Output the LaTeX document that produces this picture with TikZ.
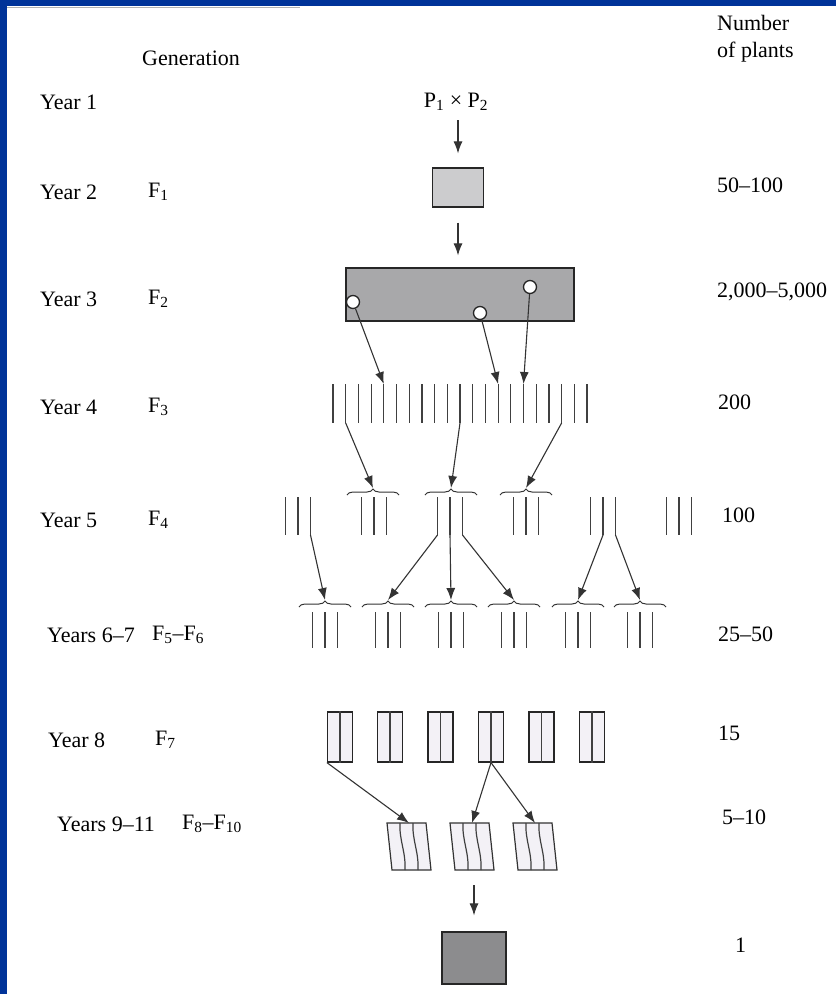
\documentclass[tikz,border=0pt]{standalone}
\usepackage{fontspec}
\setmainfont{Liberation Serif}
\usetikzlibrary{arrows.meta,positioning,calc,decorations.pathreplacing}
\definecolor{frameblue}{RGB}{0,51,153}
\definecolor{plotlight}{RGB}{204,204,206}
\definecolor{plotmid}{RGB}{168,168,170}
\definecolor{plotdark}{RGB}{140,140,142}
\definecolor{rowfill}{RGB}{243,241,246}

\begin{document}
\begin{tikzpicture}[x=1pt, y=-1pt, >={Latex[length=12pt,width=9pt]},
    font=\fontsize{22}{27}\selectfont]
  \tikzstyle{lbl}=[anchor=west, inner sep=0pt]
  \tikzstyle{conn}=[->, line width=1.1pt, draw=black!80]
  \tikzstyle{stroke}=[line width=1.2pt, draw=black!75]
  \tikzstyle{brc}=[decorate, decoration={brace, amplitude=6pt}, line width=1pt, draw=black!80]
  \tikzstyle{seed}=[circle, draw=black!85, line width=1.3pt, fill=white, minimum size=13pt, inner sep=0pt]
  \tikzstyle{plot}=[draw=black!85, line width=1.2pt, inner sep=0pt]

  \useasboundingbox (0,0) rectangle (836,994);
  \fill[white] (0,0) rectangle (836,994);
  % frame
  \fill[frameblue] (0,0) rectangle (836,6);
  \fill[frameblue] (0,0) rectangle (7,994);
  \draw[gray!60, line width=1.4pt] (7,7.5) -- (300,7.5);

  % headings
  \node[lbl] (gen) at (142,58) {Generation};
  \node[lbl, align=left] (num) at (717,39) {Number\\of plants};

  % years and generations
  \node[lbl] (y1) at (40,102) {Year 1};
  \node[lbl] (y2) at (40,192) {Year 2};
  \node[lbl] (y3) at (40,299) {Year 3};
  \node[lbl] (y4) at (40,407) {Year 4};
  \node[lbl] (y5) at (40,520) {Year 5};
  \node[lbl] (y6) at (47,635) {Years 6–7};
  \node[lbl] (y8) at (48,740) {Year 8};
  \node[lbl] (y9) at (57,824) {Years 9–11};
  \node[lbl] (g1) at (148,192) {F\textsubscript{1}};
  \node[lbl] (g2) at (148,299) {F\textsubscript{2}};
  \node[lbl] (g3) at (148,407) {F\textsubscript{3}};
  \node[lbl] (g4) at (148,520) {F\textsubscript{4}};
  \node[lbl] (g5) at (152,635) {F\textsubscript{5}–F\textsubscript{6}};
  \node[lbl] (g7) at (155,740) {F\textsubscript{7}};
  \node[lbl] (g8) at (182,824) {F\textsubscript{8}–F\textsubscript{10}};

  % plant numbers
  \node[lbl] (n2) at (717,185) {50–100};
  \node[lbl] (n3) at (717,292) {2,000–5,000};
  \node[lbl] (n4) at (718,402) {200};
  \node[lbl] (n5) at (722,515) {100};
  \node[lbl] (n6) at (718,634) {25–50};
  \node[lbl] (n7) at (718,733) {15};
  \node[lbl] (n8) at (722,817) {5–10};
  \node[lbl] (n9) at (735,945) {1};

  % cross, F1 and F2
  \node (cross) at (456,102) {P\textsubscript{1} × P\textsubscript{2}};
  \node[plot, fill=plotlight, minimum width=51pt, minimum height=39pt] (f1) at (458,187.5) {};
  \node[plot, fill=plotmid, minimum width=228pt, minimum height=53pt] (f2) at (460,294.5) {};
  \draw[conn, shorten <=6pt, shorten >=14pt] (cross.south -| f1.north) -- (f1.north);
  \draw[conn, shorten <=15pt, shorten >=12pt] (f1.south) -- (f1.south |- f2.north);
  \node[seed] (s1) at (353,302) {};
  \node[seed] (s2) at (480,313) {};
  \node[seed] (s3) at (530,287) {};

  % F3 single plants
  \foreach \i in {0,...,20} {
    \draw[stroke] ({333+12.7*\i},384) coordinate (ln\i) -- ({333+12.7*\i},423) coordinate (lb\i);
  }
  \draw[conn] (s1) -- (ln4);
  \draw[conn] (s2) -- (ln13);
  \draw[conn] (s3) -- (ln15);

  % F4 rows
  \foreach \x [count=\k] in {373,451,526} {
    \draw[brc] ({\x-26},495) -- ({\x+26},495);
    \coordinate (ta\k) at (\x,488);
  }
  \foreach \x [count=\k] in {298,374,450,526,603,679} {
    \foreach \d [count=\j] in {-12.5,0,12.5} {
      \draw[stroke] ({\x+\d},497) coordinate (ga\k-\j) -- ({\x+\d},535) coordinate (ha\k-\j);
    }
  }
  \draw[conn] (lb1) -- (ta1);
  \draw[conn] (lb10) -- (ta2);
  \draw[conn] (lb18) -- (ta3);

  % F5-F6 rows
  \foreach \x [count=\k] in {325,388,451,514,578,640} {
    \draw[brc] ({\x-26},607) -- ({\x+26},607);
    \coordinate (tb\k) at (\x,600);
    \foreach \d in {-12.5,0,12.5} {
      \draw[stroke] ({\x+\d},612) -- ({\x+\d},648);
    }
  }
  \draw[conn] (ha1-3) -- (tb1);
  \draw[conn] (ha3-1) -- (tb2);
  \draw[conn] (ha3-2) -- (tb3);
  \draw[conn] (ha3-3) -- (tb4);
  \draw[conn] (ha5-2) -- (tb5);
  \draw[conn] (ha5-3) -- (tb6);

  % F7 rows
  \foreach \x [count=\k] in {340,390,440.5,491,541.5,592} {
    \node[plot, fill=rowfill, minimum width=25pt, minimum height=50pt] (p\k) at (\x,737) {};
    \draw[stroke] (p\k.north) -- (p\k.south);
  }

  % F8-F10 bulks
  \foreach \x [count=\k] in {387,450,513} {
    \filldraw[fill=rowfill, draw=black!80, line width=1.2pt]
      (\x,823) -- ({\x+39},823) -- ({\x+44},870) -- ({\x+5},870) -- cycle;
    \foreach \d in {13,26} {
      \draw[stroke] ({\x+\d},823) .. controls ({\x+\d-1},840) and ({\x+\d+6},852) .. ({\x+\d+5},870);
    }
    \coordinate (q\k) at ({\x+22},823);
    \coordinate (qb\k) at ({\x+24},870);
  }
  \draw[conn] (p1.south west) -- (q1);
  \draw[conn] (p4.south) -- (q2);
  \draw[conn] (p4.south) -- (q3);

  % selected line
  \node[plot, fill=plotdark, minimum width=64pt, minimum height=52pt] (fin) at (474,958) {};
  \draw[conn, shorten <=15pt, shorten >=16pt] (qb2) -- (fin.north);
\end{tikzpicture}
\end{document}
